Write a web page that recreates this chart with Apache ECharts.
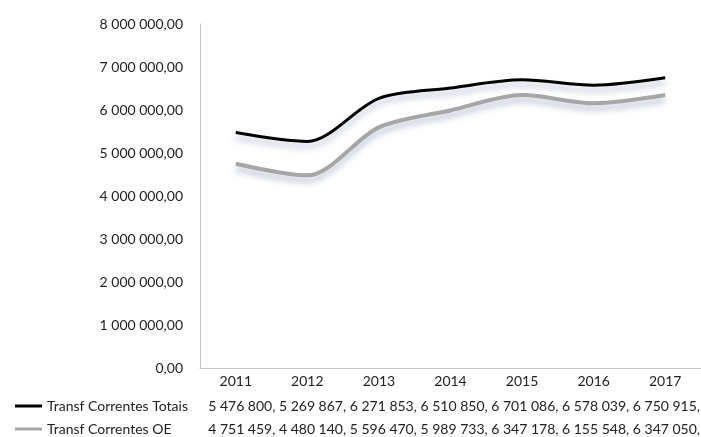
<!DOCTYPE html>
<html>
<head>
<meta charset="utf-8">
<script src="https://cdn.jsdelivr.net/npm/echarts@6/dist/echarts.min.js"></script>
<style>
  html, body { margin: 0; padding: 0; background: #fff; }
  #main { width: 701px; height: 437px; }
</style>
</head>
<body>
<div id="main"></div>
<script>
// anos
var anos = ['2011', '2012', '2013', '2014', '2015', '2016', '2017'];
// séries
var nomeTotais = 'Transf Correntes Totais';
var nomeOE = 'Transf Correntes OE';
var totais = [5476800, 5269867, 6271853, 6510850, 6701086, 6578039, 6750915];
var oe = [4751459, 4480140, 5596470, 5989733, 6347178, 6155548, 6347050];

// formato português: espaço nos milhares, vírgula decimal
function fmt(v, dec) {
    var s = v.toFixed(dec);
    var partes = s.split('.');
    var inteiro = partes[0].replace(/\B(?=(\d{3})+(?!\d))/g, ' ');
    return partes.length > 1 ? inteiro + ',' + partes[1] : inteiro;
}
function linhaValores(arr) {
    return arr.map(function (v) { return fmt(v, 0) + ','; }).join(' ');
}

var fonte = 'Lato';
var myChart = echarts.init(document.getElementById('main'));
var sombra = {
    shadowColor: 'rgba(90,110,150,0.45)',
    shadowBlur: 6,
    shadowOffsetY: 5
};
// legenda de uma linha
function legenda(nome, topo) {
    return {
        left: 10,
        top: topo,
        padding: [0, 5],
        itemWidth: 27,
        itemHeight: 3,
        icon: 'rect',
        textStyle: { fontSize: 14, color: '#222', fontFamily: fonte },
        data: [nome]
    };
}

var option = {
    backgroundColor: '#fff',
    animation: false,
    textStyle: { fontFamily: fonte },
    grid: { left: 200, right: 0, top: 24, bottom: 69 },
    legend: [legenda(nomeTotais, 399), legenda(nomeOE, 422)],
    xAxis: {
        type: 'category',
        data: anos,
        axisLine: { lineStyle: { color: '#bfbfbf' } },
        axisTick: { show: false },
        axisLabel: { color: '#222', fontSize: 14, margin: 6 }
    },
    yAxis: {
        type: 'value',
        min: 0,
        max: 8000000,
        interval: 1000000,
        splitLine: { show: false },
        axisLine: { show: true, lineStyle: { color: '#bfbfbf' } },
        axisLabel: {
            color: '#222',
            fontSize: 14,
            margin: 17,
            formatter: function (v) { return fmt(v, 2); }
        }
    },
    graphic: [
        {
            type: 'text', right: 1, top: 399,
            style: { text: linhaValores(totais), fill: '#222', font: '14px ' + fonte }
        },
        {
            type: 'text', right: 1, top: 422,
            style: { text: linhaValores(oe), fill: '#222', font: '14px ' + fonte }
        }
    ],
    series: [
        {
            name: nomeTotais,
            type: 'line',
            data: totais,
            smooth: 0.3,
            showSymbol: false,
            itemStyle: { color: '#000' },
            lineStyle: Object.assign({ color: '#000', width: 3 }, sombra)
        },
        {
            name: nomeOE,
            type: 'line',
            data: oe,
            smooth: 0.3,
            showSymbol: false,
            itemStyle: { color: '#a6a6a6' },
            lineStyle: Object.assign({ color: '#a6a6a6', width: 4 }, sombra)
        }
    ]
};
myChart.setOption(option);
</script>
</body>
</html>
